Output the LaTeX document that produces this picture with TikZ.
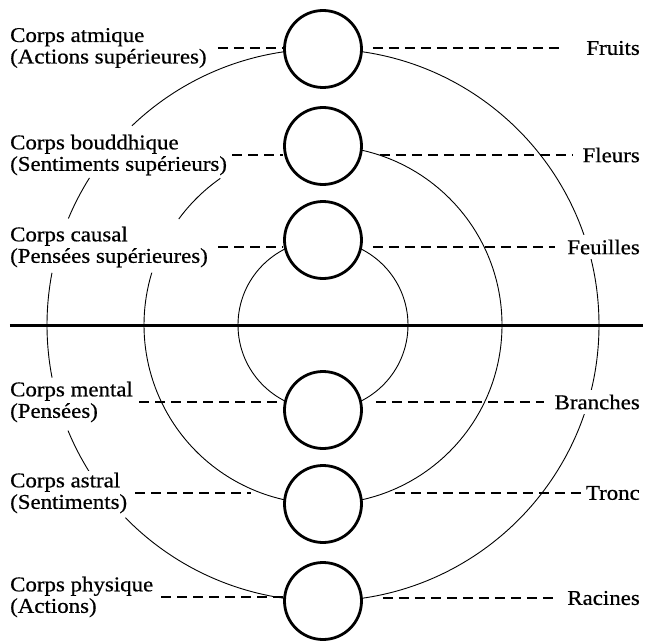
\documentclass[tikz,border=0pt]{standalone}
\usepackage{fontspec}
\setmainfont[FakeStretch=1.09,FakeBold=0.6]{Liberation Serif}

\begin{document}
\begin{tikzpicture}[x=1pt,y=1pt,
  body/.style={circle,draw,line width=2.8pt,fill=white,minimum size=77pt,inner sep=0pt},
  ring/.style={line width=0.9pt},
  link/.style={line width=1.4pt,dash pattern=on 10pt off 6pt},
  lab/.style={font=\fontsize{21pt}{21.5pt}\selectfont,inner sep=2pt,fill=white}]
\useasboundingbox (-323,-318) rectangle (322,325);
% the three rings, right halves whole
\foreach \r in {85,179,276}
  \draw[ring] (90:\r) arc[start angle=90,end angle=-90,radius=\r];
% left halves, broken where the labels sit
\foreach \r/\a/\b in {85/90/270, 179/125/143.7, 179/163/270,
    276/90/133.8, 276/147.8/157.3, 276/169.1/191, 276/202.5/212.2, 276/224.3/270}
  \draw[ring] (\a:\r) arc[start angle=\a,end angle=\b,radius=\r];
\draw[line width=3pt] (-313,0) -- (320,0);

\node[body] (atm) at (0,276) {};
\node[body] (boud) at (0,179) {};
\node[body] (caus) at (0,85) {};
\node[body] (ment) at (0,-85) {};
\node[body] (astr) at (0,-179) {};
\node[body] (phys) at (0,-276) {};

\node[lab,align=left,anchor=west] (latm) at (-315,277) {Corps atmique\\(Actions supérieures)};
\node[lab,align=left,anchor=west] (lboud) at (-315,170) {Corps bouddhique\\(Sentiments supérieurs)};
\node[lab,align=left,anchor=west] (lcaus) at (-315,78) {Corps causal\\(Pensées supérieures)};
\node[lab,align=left,anchor=west] (lment) at (-315,-77) {Corps mental\\(Pensées)};
\node[lab,align=left,anchor=west] (lastr) at (-315,-168) {Corps astral\\(Sentiments)};
\node[lab,align=left,anchor=west] (lphys) at (-315,-272) {Corps physique\\(Actions)};

\node[lab,anchor=east] (fruits) at (319,277) {Fruits};
\node[lab,anchor=east] (fleurs) at (319,170) {Fleurs};
\node[lab,anchor=east,inner ysep=5pt] (feuilles) at (319,78) {Feuilles};
\node[lab,anchor=east,inner ysep=5pt] (branches) at (319,-77) {Branches};
\node[lab,anchor=east] (tronc) at (319,-168) {Tronc};
\node[lab,anchor=east] (racines) at (319,-273) {Racines};

\draw[link,shorten <=9pt] (latm.east) -- (latm.east -| atm.west);
\draw[link,shorten <=3pt] (lboud.east) -- (lboud.east -| boud.west);
\draw[link,shorten <=8pt] (lcaus.east) -- (lcaus.east -| caus.west);
\draw[link,shorten <=4pt] (lment.east) -- (lment.east -| ment.west);
\draw[link,shorten <=6pt,shorten >=32pt] (lastr.east) -- (lastr.east -| astr.west);
\draw[link,shorten <=6pt] (lphys.east) -- (lphys.east -| phys.west);

\draw[link,shorten <=10pt,shorten >=23pt] (fruits.west -| atm.east) -- (fruits.west);
\draw[link,shorten <=17pt,shorten >=8pt] (fleurs.west -| boud.east) -- (fleurs.west);
\draw[link,shorten <=10pt,shorten >=10pt] (feuilles.west -| caus.east) -- (feuilles.west);
\draw[link,shorten <=13pt,shorten >=8pt] (branches.west -| ment.east) -- (branches.west);
\draw[link,shorten <=32pt] (tronc.west -| astr.east) -- (tronc.west);
\draw[link,shorten <=20pt,shorten >=12pt] (racines.west -| phys.east) -- (racines.west);
\end{tikzpicture}
\end{document}
